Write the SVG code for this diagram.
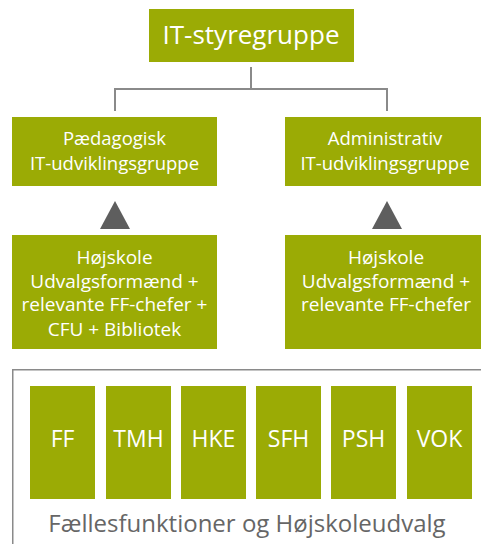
<svg xmlns="http://www.w3.org/2000/svg" width="481" height="544" viewBox="0 0 481 544">
<style>
.box{fill:#9bab05}
.t{fill:#ffffff;font-family:"Open Sans","Liberation Sans",sans-serif;text-anchor:middle}
.conn{fill:none;stroke:#8a8a8a;stroke-width:2}
.tri{fill:#5e5e5e}
</style>
<rect width="481" height="544" fill="#ffffff"/>
<g id="connectors">
<path class="conn" d="M251,67 V89 M115,89 H387 M115,88 V111 M387,88 V111"/>
<polygon class="tri" points="115,201 100,229 130,229"/>
<polygon class="tri" points="387,201 372,229 402,229"/>
</g>
<g id="it-styregruppe">
<rect class="box" x="149" y="9" width="205" height="53"/>
<text class="t" x="251" y="44" font-size="26">IT-styregruppe</text>
</g>
<g id="paedagogisk">
<rect class="box" x="12" y="117" width="205" height="69"/>
<text class="t" x="114.5" y="145" font-size="18.5">Pædagogisk</text>
<text class="t" x="114.5" y="170" font-size="18.5">IT-udviklingsgruppe</text>
</g>
<g id="administrativ">
<rect class="box" x="285" y="117" width="196" height="69"/>
<text class="t" x="385" y="145" font-size="18.5">Administrativ</text>
<text class="t" x="385" y="170" font-size="18.5">IT-udviklingsgruppe</text>
</g>
<g id="hojskole-left">
<rect class="box" x="12" y="235" width="205" height="114"/>
<text class="t" x="114.5" y="264" font-size="19">Højskole</text>
<text class="t" x="114.5" y="287.5" font-size="19">Udvalgsformænd +</text>
<text class="t" x="114.5" y="311" font-size="19">relevante FF-chefer +</text>
<text class="t" x="114.5" y="335.5" font-size="19">CFU + Bibliotek</text>
</g>
<g id="hojskole-right">
<rect class="box" x="285" y="235" width="196" height="114"/>
<text class="t" x="386" y="264" font-size="19">Højskole</text>
<text class="t" x="386" y="287.5" font-size="19">Udvalgsformænd +</text>
<text class="t" x="386" y="311" font-size="19">relevante FF-chefer</text>
</g>
<g id="faellesfunktioner">
<path d="M12.75,545 V369.75 H482" fill="none" stroke="#8a8a8a" stroke-width="1.5"/>
<text x="247" y="532" font-size="24" fill="#666666" font-family="'Open Sans','Liberation Sans',sans-serif" text-anchor="middle">Fællesfunktioner og Højskoleudvalg</text>
</g>
<g id="ff"><rect class="box" x="30" y="386" width="65" height="113"/><text class="t" x="62.5" y="447" font-size="23">FF</text></g>
<g id="tmh"><rect class="box" x="106" y="386" width="65" height="113"/><text class="t" x="138.5" y="447" font-size="23">TMH</text></g>
<g id="hke"><rect class="box" x="181" y="386" width="65" height="113"/><text class="t" x="213.5" y="447" font-size="23">HKE</text></g>
<g id="sfh"><rect class="box" x="256" y="386" width="65" height="113"/><text class="t" x="288.5" y="447" font-size="23">SFH</text></g>
<g id="psh"><rect class="box" x="331" y="386" width="65" height="113"/><text class="t" x="363.5" y="447" font-size="23">PSH</text></g>
<g id="vok"><rect class="box" x="407" y="386" width="65" height="113"/><text class="t" x="439.5" y="447" font-size="23">VOK</text></g>
</svg>
